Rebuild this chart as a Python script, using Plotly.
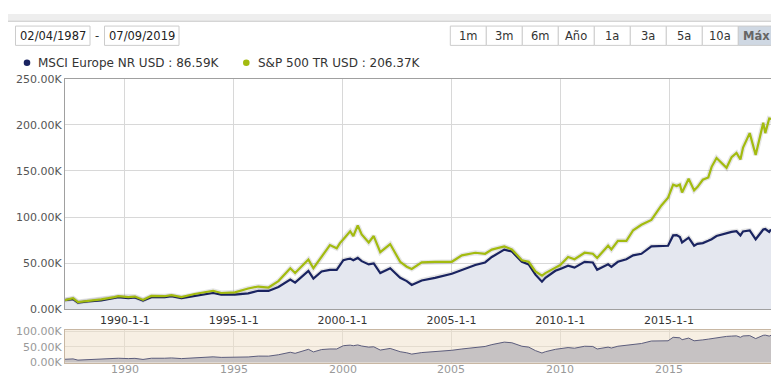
import plotly.graph_objects as go

# ---------------- data ----------------
DATES = [
    "1987-04-02", "1987-08-15", "1987-11-05", "1988-04-20", "1988-12-01", "1989-07-12",
    "1989-09-12", "1990-02-28", "1990-06-18", "1990-11-01", "1991-03-20", "1991-10-30",
    "1992-02-20", "1992-08-07", "1993-03-15", "1994-01-20", "1994-06-05", "1995-01-20",
    "1995-09-01", "1996-02-18", "1996-08-07", "1997-01-20", "1997-08-07", "1997-10-27",
    "1998-06-07", "1998-08-30", "1999-01-15", "1999-06-03", "1999-09-25", "1999-11-18",
    "2000-01-15", "2000-03-15", "2000-05-08", "2000-06-30", "2000-09-12", "2000-11-17",
    "2001-03-15", "2001-06-07", "2001-09-25", "2002-03-10", "2002-08-25", "2002-12-13",
    "2003-03-07", "2003-08-22", "2004-04-01", "2005-01-08", "2005-06-25", "2006-02-06",
    "2006-07-20", "2006-11-10", "2007-06-07", "2007-10-12", "2008-03-28", "2008-07-20",
    "2008-11-10", "2009-02-28", "2009-04-27", "2009-10-12", "2010-01-01", "2010-05-12",
    "2010-08-28", "2011-02-14", "2011-07-01", "2011-09-12", "2012-03-14", "2012-05-08",
    "2012-08-25", "2013-01-15", "2013-05-08", "2013-09-24", "2014-03-10", "2014-08-25",
    "2014-12-15", "2015-03-10", "2015-05-08", "2015-07-01", "2015-08-07", "2015-11-25",
    "2016-02-25", "2016-04-20", "2016-07-20", "2016-10-20", "2016-12-15", "2017-03-07",
    "2017-08-22", "2017-11-15", "2018-02-05", "2018-04-12", "2018-05-26", "2018-09-15",
    "2018-12-24", "2019-04-30", "2019-06-03", "2019-08-08", "2019-09-07",
]
MSCI_EUROPE = [  # thousands USD
    10.0, 11.2, 7.3, 8.7, 9.7, 12.3,
    13.3, 12.2, 12.9, 9.5, 13.3, 13.3,
    14.3, 12.2, 14.6, 17.8, 16.0, 16.0,
    17.4, 20.2, 20.0, 24.4, 32.4, 29.0,
    41.8, 33.5, 41.1, 42.9, 42.9, 48.0,
    53.3, 54.4, 55.1, 53.3, 55.8, 52.3,
    48.8, 49.9, 39.4, 44.6, 34.2, 30.7,
    26.5, 31.4, 34.2, 38.7, 42.9, 48.1,
    50.9, 56.8, 64.8, 62.7, 51.6, 48.8,
    37.7, 30.0, 34.2, 41.8, 43.9, 47.4,
    45.3, 51.6, 50.9, 42.9, 48.8, 46.0,
    51.6, 54.4, 58.6, 60.3, 68.3, 68.3,
    69.0, 80.2, 80.5, 78.5, 72.5, 77.7,
    69.0, 71.0, 71.9, 74.3, 76.0, 79.5,
    83.0, 84.0, 84.7, 80.2, 84.5, 85.5,
    76.0, 86.5, 87.1, 84.0, 86.59,
]
SP500_TR = [  # thousands USD
    10.0, 12.2, 8.0, 9.1, 10.8, 13.3,
    14.3, 13.3, 13.9, 10.3, 14.6, 14.3,
    15.4, 13.3, 16.7, 20.2, 17.8, 18.5,
    22.7, 24.8, 23.7, 30.7, 44.6, 39.4,
    54.0, 44.6, 56.8, 69.7, 66.2, 71.9,
    76.0, 81.3, 84.7, 79.5, 91.0, 81.3,
    72.5, 79.5, 62.0, 70.8, 51.6, 46.3,
    43.9, 50.9, 51.6, 51.6, 58.6, 61.4,
    60.3, 64.8, 68.3, 65.0, 53.3, 51.6,
    41.1, 36.6, 39.4, 45.3, 48.1, 56.8,
    54.4, 61.4, 60.3, 55.8, 69.0, 65.0,
    74.3, 74.3, 85.8, 91.7, 97.0, 112.6,
    121.0, 135.2, 133.6, 135.2, 126.6, 141.6,
    129.0, 132.5, 140.5, 143.0, 154.5, 164.0,
    153.4, 165.0, 169.5, 162.5, 175.4, 191.0,
    167.4, 202.2, 191.0, 206.8, 206.37,
]
SERIES_NAMES = ["MSCI Europe NR USD", "S&P 500 TR USD"]
LAST_LABELS = ["86.59K", "206.37K"]
DATE_FROM, DATE_TO = "02/04/1987", "07/09/2019"
BUTTONS = ["1m", "3m", "6m", "Año", "1a", "3a", "5a", "10a", "Máx"]
X_TICKS = ["1990-01-01", "1995-01-01", "2000-01-01", "2005-01-01", "2010-01-01", "2015-01-01"]
X_TICK_TEXT = ["1990-1-1", "1995-1-1", "2000-1-1", "2005-1-1", "2010-1-1", "2015-1-1"]
NAV_TICK_TEXT = ["1990", "1995", "2000", "2005", "2010", "2015"]
Y_TICKS = [0, 50, 100, 150, 200, 250]
Y_TICK_TEXT = ["0.00K", "50.00K", "100.00K", "150.00K", "200.00K", "250.00K"]
NAV_Y_TICKS = [0, 50, 100]
NAV_Y_TICK_TEXT = ["0.00K", "50.00K", "100.00K"]

# ---------------- styling ----------------
W, H = 779, 376
FONT = "DejaVu Sans, Verdana, sans-serif"
NAVY = "#1a2461"
GREEN = "#a3bb0f"
X_RANGE = ["1987-04-02", "2019-09-07"]


def px(x):
    return x / W


def py(y):
    return 1 - y / H


fig = go.Figure()

# soft shadows under the lines
fig.add_trace(go.Scatter(x=DATES, y=MSCI_EUROPE, mode="lines",
                         line=dict(color="rgba(0,0,0,0.10)", width=5),
                         xaxis="x", yaxis="y", hoverinfo="skip"))
# main chart traces
fig.add_trace(go.Scatter(x=DATES, y=MSCI_EUROPE, mode="lines", fill="tozeroy",
                         fillcolor="#e4e7ef", line=dict(color=NAVY, width=2.2),
                         xaxis="x", yaxis="y", hoverinfo="skip"))
fig.add_trace(go.Scatter(x=DATES, y=SP500_TR, mode="lines",
                         line=dict(color="rgba(0,0,0,0.10)", width=5),
                         xaxis="x", yaxis="y", hoverinfo="skip"))
fig.add_trace(go.Scatter(x=DATES, y=SP500_TR, mode="lines",
                         line=dict(color=GREEN, width=2.2),
                         xaxis="x", yaxis="y", hoverinfo="skip"))
# navigator trace
fig.add_trace(go.Scatter(x=DATES, y=MSCI_EUROPE, mode="lines", fill="tozeroy",
                         fillcolor="#c6c2c3", line=dict(color="#5c5d7c", width=1),
                         xaxis="x2", yaxis="y2", hoverinfo="skip"))

shapes = []
annotations = []

# top gray band and right strip
shapes.append(dict(type="rect", xref="paper", yref="paper", x0=0, x1=1, y0=py(7.5), y1=1,
                   fillcolor="#eeeeee", line=dict(width=0), layer="below"))
shapes.append(dict(type="line", xref="paper", yref="paper", x0=0, x1=1, y0=py(7.5), y1=py(7.5),
                   line=dict(color="#c8c8c8", width=1)))
shapes.append(dict(type="rect", xref="paper", yref="paper", x0=px(767), x1=1, y0=0, y1=py(8),
                   fillcolor="#f2f2f2", line=dict(width=0), layer="below"))

# date inputs
for (x0, x1, txt) in [(7.5, 82, DATE_FROM), (96.5, 171, DATE_TO)]:
    shapes.append(dict(type="rect", xref="paper", yref="paper", x0=px(x0), x1=px(x1),
                       y0=py(32.5), y1=py(12.5), fillcolor="white",
                       line=dict(color="#cccccc", width=1)))
    annotations.append(dict(x=px(x0 + 2.5), y=py(22.5), xref="paper", yref="paper", text=txt,
                            showarrow=False, xanchor="left", yanchor="middle",
                            font=dict(family=FONT, size=11.5, color="#222222")))
annotations.append(dict(x=px(89.3), y=py(22.5), xref="paper", yref="paper", text="-",
                        showarrow=False, xanchor="center", yanchor="middle",
                        font=dict(family=FONT, size=11.5, color="#333333")))

# range buttons
bx0, bw = 442.3, 36.0
for i, b in enumerate(BUTTONS):
    x0 = bx0 + i * bw
    sel = (b == "Máx")
    shapes.append(dict(type="rect", xref="paper", yref="paper", x0=px(x0), x1=px(x0 + bw),
                       y0=py(32.5), y1=py(12.5), fillcolor="#cfd8e3" if sel else "white",
                       line=dict(color="#cccccc", width=1)))
    annotations.append(dict(x=px(x0 + bw / 2), y=py(22.5), xref="paper", yref="paper",
                            text=f"<b>{b}</b>" if sel else b, showarrow=False,
                            xanchor="center", yanchor="middle",
                            font=dict(family=FONT, size=11.5, color="#666666" if sel else "#333333")))

# legend
for (dx, tx, color, name, last) in [(19, 28.3, NAVY, SERIES_NAMES[0], LAST_LABELS[0]),
                                    (238.3, 248.3, GREEN, SERIES_NAMES[1], LAST_LABELS[1])]:
    r = 3.3
    shapes.append(dict(type="circle", xref="paper", yref="paper", x0=px(dx - r), x1=px(dx + r),
                       y0=py(50.5 + r), y1=py(50.5 - r), fillcolor=color, line=dict(width=0)))
    annotations.append(dict(x=px(tx), y=py(50.5), xref="paper", yref="paper",
                            text=f"{name} : {last}", showarrow=False, xanchor="left",
                            yanchor="middle", font=dict(family=FONT, size=12, color="#333333")))

# navigator x labels (kept inside the window)
for tv, tt in zip(X_TICKS, NAV_TICK_TEXT):
    annotations.append(dict(x=tv, y=0, xref="x2", yref="paper", text=tt, showarrow=False,
                            xanchor="center", yanchor="bottom", yshift=-1,
                            font=dict(family=FONT, size=11, color="#999999")))

# navigator background
shapes.append(dict(type="rect", xref="x2 domain", yref="y2 domain", x0=0, x1=1, y0=0, y1=1,
                   fillcolor="#f7efe3", line=dict(width=0), layer="below"))

fig.update_layout(
    width=W, height=H, margin=dict(l=0, r=0, t=0, b=0),
    paper_bgcolor="white", plot_bgcolor="white", showlegend=False,
    shapes=shapes, annotations=annotations,
    font=dict(family=FONT, size=11, color="#555555"),
    xaxis=dict(domain=[px(57), px(763)], range=X_RANGE, type="date",
               tickvals=X_TICKS, ticktext=X_TICK_TEXT, showgrid=True, gridcolor="#d8d8d8",
               gridwidth=1, showline=True, linecolor="#a0a0a0", mirror=True, ticks="",
               tickfont=dict(family=FONT, size=11, color="#333333"), anchor="y",
               zeroline=False, fixedrange=True),
    yaxis=dict(domain=[py(306), py(67)], range=[0, 250], tickvals=Y_TICKS,
               ticktext=Y_TICK_TEXT, showgrid=True, gridcolor="#d8d8d8", gridwidth=1,
               showline=True, linecolor="#a0a0a0", mirror=True, ticks="",
               tickfont=dict(family=FONT, size=11, color="#555555"), anchor="x",
               zeroline=False, fixedrange=True),
    xaxis2=dict(domain=[px(57), px(763)], range=X_RANGE, type="date",
                tickvals=X_TICKS, showticklabels=False, showgrid=True, gridcolor="#e4dccf",
                showline=True, linecolor="#c8b7a3", mirror=True, ticks="",
                anchor="y2", zeroline=False, fixedrange=True),
    yaxis2=dict(domain=[py(361.7), py(327.3)], range=[-2.5, 103.5], tickvals=NAV_Y_TICKS,
                ticktext=NAV_Y_TICK_TEXT, showgrid=True, gridcolor="#e4dccf",
                showline=True, linecolor="#c8b7a3", mirror=True, ticks="",
                tickfont=dict(family=FONT, size=11, color="#999999"), anchor="x2",
                zeroline=False, fixedrange=True),
)

fig.write_html("out.html", config={"displayModeBar": False})
